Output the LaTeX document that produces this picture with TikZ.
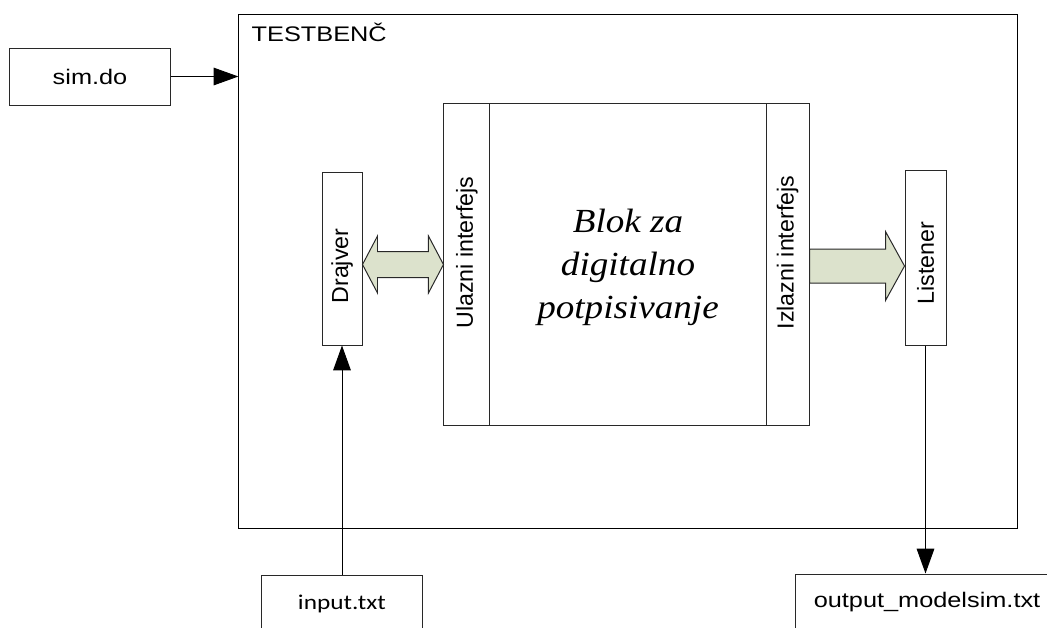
\documentclass[tikz,border=0pt]{standalone}
\usepackage{fontspec}
\usepackage{tikz}
\usetikzlibrary{positioning, calc, arrows.meta}
\setmainfont{Liberation Sans}
\newfontfamily\boxfont[FakeStretch=1.2]{Liberation Sans}
\newfontfamily\filefont[FakeStretch=1.2]{Carlito}
\newfontfamily\sidefont{Liberation Sans}
\newfontfamily\blockfont[FakeStretch=1.1]{Liberation Serif}
\definecolor{arrowfill}{RGB}{220, 226, 204}
\definecolor{edge}{RGB}{40, 40, 40}

\begin{document}
\begin{tikzpicture}[
        x=0.025cm, y=-0.025cm,
        box/.style={rectangle, draw=edge, fill=white, line width=0.7pt, inner sep=0pt, font=\boxfont\fontsize{15}{18}\selectfont},
        side/.style={rotate=90, inner sep=0pt, font=\sidefont\fontsize{16.5}{20}\selectfont},
        fat/.style={draw=edge, fill=arrowfill, line width=0.7pt, line join=miter},
        wire/.style={-{Triangle[length=0.62cm, width=0.44cm]}, line width=0.7pt, black}
    ]

        \useasboundingbox (0,0) rectangle (1047,627);
        \clip (0,0) rectangle (1047,627);

        \node (tb) [box, draw=black, minimum width=19.45cm, minimum height=12.825cm] at (628,271.5) {};
        \node (tbname) [anchor=base west, inner sep=0pt, font=\boxfont\fontsize{15}{18}\selectfont] at ($(tb.north west)+(13,27)$) {TESTBENČ};

        \node (simdo) [box, minimum width=4cm, minimum height=1.425cm] at (90,76.5) {sim.do};

        \node (block) [box, minimum width=9.125cm, minimum height=8.025cm] at (626.5,264.5) {};
        \node (ulaz) [box, anchor=west, minimum width=1.15cm, minimum height=8.025cm] at (block.west) {};
        \node (izlaz) [box, anchor=east, minimum width=1.075cm, minimum height=8.025cm] at (block.east) {};
        \node (core) [align=center, inner sep=0pt, font=\blockfont\itshape\fontsize{24}{30.5}\selectfont] at ($(ulaz.east)!0.5!(izlaz.west)+(0,3)$) {Blok za\\digitalno\\potpisivanje};

        \node (drajver) [box, minimum width=1cm, minimum height=4.3cm] at (342,259) {};
        \node (listener) [box, minimum width=1.025cm, minimum height=4.35cm] at (925.5,258) {};

        \node (ulaztxt) [side] at ($(ulaz.center)+(0,-12)$) {Ulazni interfejs};
        \node (izlaztxt) [side] at ($(izlaz.center)+(0,-12)$) {Izlazni interfejs};
        \node (drajvertxt) [side] at ($(drajver.center)+(0,7)$) {Drajver};
        \node (listenertxt) [side] at ($(listener.center)+(0,5)$) {Listener};

        \node (input) [box, font=\filefont\fontsize{15}{18}\selectfont, minimum width=4cm, minimum height=1.425cm] at (342,603.5) {input.txt};
        \node (output) [box, minimum width=6.55cm, minimum height=1.425cm] at (927,602.5) {output\_modelsim.txt};

        % fat arrows between the blocks
        \coordinate (ltail) at (drajver.east |- ulaz.west);
        \coordinate (ltip) at (ulaz.west);
        \draw[fat] (ltail) -- ++(15,-28.5) -- ++(0,15.5) -- ($(ltip)+(-15,-13)$) -- ++(0,-15.5) -- (ltip)
            -- ++(-15,28.5) -- ++(0,-15.5) -- ($(ltail)+(15,13)$) -- ++(0,15.5) -- cycle;

        \coordinate (rtail) at ($(izlaz.east)+(0,1.5)$);
        \coordinate (rtip) at (listener.west |- rtail);
        \draw[fat] ($(rtail)+(0,-17)$) -- ($(rtip)+(-19,-17)$) -- ++(0,-17.5) -- (rtip)
            -- ++(-19,34.5) -- ++(0,-17.5) -- ($(rtail)+(0,17)$) -- cycle;

        \draw[wire] (simdo.east) -- (simdo.east -| tb.west);
        \draw[wire] (input.north) -- (drajver.south);
        \draw[wire] (listener.south) -- (listener.south |- output.north);
    \end{tikzpicture}
\end{document}
